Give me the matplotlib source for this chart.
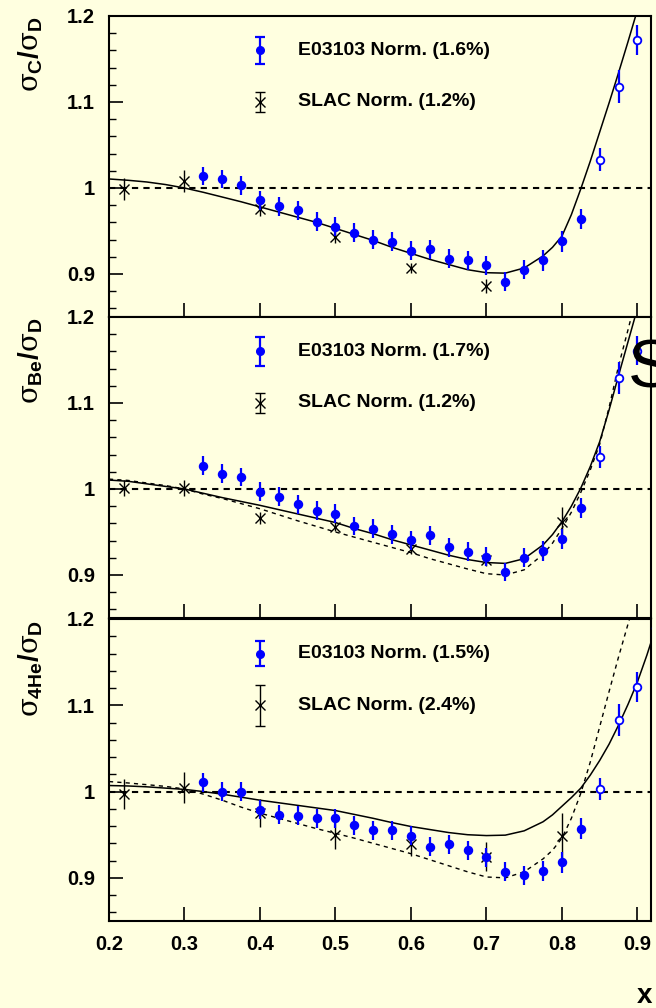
import numpy as np
import matplotlib
matplotlib.use('Agg')
import matplotlib.pyplot as plt

plt.rcParams['font.family'] = ['Liberation Sans', 'DejaVu Sans']
plt.rcParams['mathtext.fontset'] = 'custom'
plt.rcParams['mathtext.rm'] = 'Liberation Sans:bold'
plt.rcParams['mathtext.bf'] = 'Liberation Sans:bold'
plt.rcParams['mathtext.it'] = 'DejaVu Serif'

BG = '#ffffe0'

# E03103 points (x = 0.325 ... 0.9, open circles for x >= 0.85)
e_x = [0.325, 0.35, 0.375, 0.4, 0.425, 0.45, 0.475, 0.5, 0.525, 0.55, 0.575, 0.6,
       0.625, 0.65, 0.675, 0.7, 0.725, 0.75, 0.775, 0.8, 0.825, 0.85, 0.875, 0.9]
e_err = [0.011, 0.011, 0.011, 0.011, 0.011, 0.011, 0.011, 0.011, 0.011, 0.011, 0.011, 0.011,
         0.011, 0.011, 0.011, 0.011, 0.011, 0.011, 0.012, 0.012, 0.012, 0.013, 0.019, 0.017]
e_c = [1.014, 1.0105, 1.003, 0.986, 0.979, 0.974, 0.961, 0.955, 0.948, 0.940, 0.9376, 0.927,
       0.9287, 0.918, 0.916, 0.910, 0.891, 0.905, 0.916, 0.938, 0.964, 1.033, 1.118, 1.172]
e_be = [1.027, 1.018, 1.014, 0.997, 0.991, 0.982, 0.9745, 0.971, 0.957, 0.954, 0.9475, 0.9405,
        0.946, 0.932, 0.927, 0.921, 0.9035, 0.920, 0.928, 0.942, 0.978, 1.037, 1.129, 1.161]
e_he = [1.011, 1.0, 1.0, 0.979, 0.973, 0.972, 0.969, 0.969, 0.961, 0.955, 0.955, 0.949,
        0.936, 0.939, 0.932, 0.924, 0.907, 0.903, 0.908, 0.918, 0.957, 1.003, 1.083, 1.121]
e_he_x_extra = [0.925]
e_he_extra = [1.19]
e_he_err_extra = [0.017]

# SLAC points
s_x = [0.22, 0.3, 0.4, 0.5, 0.6, 0.7, 0.8]
s_c = [0.9985, 1.0085, 0.976, 0.943, 0.907, 0.886]
s_c_err = [0.013, 0.013, 0.009, 0.007, 0.006, 0.008]
s_be = [1.0008, 1.001, 0.9667, 0.9563, 0.9297, 0.917, 0.962]
s_be_err = [0.0095, 0.009, 0.007, 0.005, 0.005, 0.006, 0.017]
s_he = [0.997, 1.0047, 0.975, 0.9496, 0.9389, 0.9244, 0.9489]
s_he_err = [0.0175, 0.0175, 0.016, 0.016, 0.014, 0.017, 0.026]

# fit curves
cx = [0.2, 0.225, 0.25, 0.275, 0.3, 0.325, 0.35, 0.375, 0.4, 0.425, 0.45, 0.475, 0.5,
      0.525, 0.55, 0.575, 0.6, 0.625, 0.65, 0.675, 0.7, 0.725, 0.75, 0.775, 0.7875, 0.8,
      0.8125, 0.825, 0.8375, 0.85, 0.8625, 0.875, 0.8875, 0.9, 0.9125, 0.925]
c_solid = [1.0105, 1.009, 1.007, 1.004, 1.000, 0.995, 0.9895, 0.984, 0.978, 0.972, 0.966, 0.960, 0.953,
           0.946, 0.939, 0.931, 0.924, 0.917, 0.911, 0.905, 0.9015, 0.901, 0.907, 0.921, 0.931, 0.944,
           0.969, 0.999, 1.031, 1.065, 1.099, 1.134, 1.170, 1.207, 1.245, 1.285]
be_solid = [1.0104, 1.009, 1.006, 1.003, 1.000, 0.995, 0.990, 0.9855, 0.981, 0.976, 0.971, 0.966, 0.961,
            0.954, 0.948, 0.941, 0.935, 0.929, 0.923, 0.918, 0.9145, 0.9135, 0.919, 0.935, 0.947, 0.962,
            0.980, 1.001, 1.026, 1.055, 1.092, 1.132, 1.171, 1.21, 1.25, 1.29]
be_dash = [1.0115, 1.010, 1.007, 1.004, 1.000, 0.994, 0.989, 0.983, 0.977, 0.970, 0.963, 0.9565, 0.950,
           0.944, 0.938, 0.932, 0.926, 0.919, 0.913, 0.907, 0.9015, 0.900, 0.906, 0.924, 0.937, 0.954,
           0.973, 0.996, 1.022, 1.052, 1.095, 1.143, 1.185, 1.228, 1.27, 1.31]
he_solid = [1.007, 1.0065, 1.0055, 1.004, 1.0025, 1.000, 0.997, 0.9935, 0.990, 0.987, 0.984, 0.981, 0.978,
            0.9735, 0.969, 0.964, 0.9595, 0.956, 0.9525, 0.950, 0.949, 0.9495, 0.9545, 0.965, 0.973, 0.983,
            0.993, 1.004, 1.019, 1.036, 1.055, 1.077, 1.101, 1.127, 1.158, 1.192]
he_dash = [1.0116, 1.010, 1.008, 1.006, 1.003, 0.997, 0.990, 0.982, 0.975, 0.969, 0.963, 0.957, 0.9516,
           0.946, 0.940, 0.934, 0.928, 0.921, 0.914, 0.907, 0.901, 0.900, 0.907, 0.922, 0.932, 0.946,
           0.969, 0.998, 1.034, 1.075, 1.116, 1.156, 1.194, 1.232, 1.27, 1.31]

labels = [r'$\sigma_{\mathrm{C}}/\sigma_{\mathrm{D}}$',
          r'$\sigma_{\mathrm{Be}}/\sigma_{\mathrm{D}}$',
          r'$\sigma_{\mathrm{4He}}/\sigma_{\mathrm{D}}$']
e_norm = [0.016, 0.017, 0.015]
s_norm = [0.012, 0.012, 0.024]
xticks = [0.2, 0.3, 0.4, 0.5, 0.6, 0.7, 0.8, 0.9]

W, H = 656, 1008
fig = plt.figure(figsize=(W / 100, H / 100), dpi=100, facecolor=BG)

# panel pixel boxes (top, bottom)
boxes = [(16, 317), (317, 618), (619, 921)]
left_px, right_px = 109, 651

panels = [
    (e_c, s_x[:6], s_c, s_c_err, c_solid, None),
    (e_be, s_x, s_be, s_be_err, be_solid, be_dash),
    (e_he, s_x, s_he, s_he_err, he_solid, he_dash),
]

for i, (ey, sx, sy, serr, solid, dash) in enumerate(panels):
    top, bot = boxes[i]
    ax = fig.add_axes([left_px / W, 1 - bot / H, (right_px - left_px) / W, (bot - top) / H])
    ax.set_facecolor(BG)
    ax.set_xlim(0.2, 0.918)
    ax.set_ylim(0.85, 1.2)

    ax.axhline(1.0, color='black', lw=1.5, ls=(0, (3, 2.5)), zorder=2)
    ax.plot(cx, solid, color='black', lw=1.1, zorder=3)
    if dash is not None:
        ax.plot(cx, dash, color='black', lw=1.0, ls=(0, (3, 3)), zorder=3)

    # SLAC crosses
    ax.errorbar(sx, sy, yerr=serr, fmt='x', color='black', ms=7.5, mew=1.0,
                elinewidth=1.0, capsize=0, zorder=4)

    # E03103 points, filled below 0.85, open above
    xs = list(e_x)
    ys = list(ey)
    errs = list(e_err)
    if i == 2:
        xs += e_he_x_extra
        ys += e_he_extra
        errs += e_he_err_extra
    for x, y, er in zip(xs, ys, errs):
        face = 'blue' if x < 0.84 else 'white'
        ax.errorbar([x], [y], yerr=[er], fmt='o', color='blue', mfc=face, mec='blue',
                    ms=5.5, mew=1.3, elinewidth=1.6, capsize=0, zorder=5)

    # legend entries drawn in data coordinates
    ax.errorbar([0.4], [1.16], yerr=[e_norm[i]], fmt='o', color='blue', ms=5.5,
                elinewidth=1.6, capsize=3.5, capthick=1.6, zorder=5)
    ax.errorbar([0.4], [1.1], yerr=[s_norm[i]], fmt='x', color='black', ms=7.5, mew=1.0,
                elinewidth=1.0, capsize=3.5, capthick=1.0, zorder=5)
    ax.text(0.45, 1.16, 'E03103 Norm. (%.1f%%)' % (e_norm[i] * 100), fontsize=14,
            fontweight='bold', va='center', ha='left')
    ax.text(0.45, 1.1, 'SLAC Norm. (%.1f%%)' % (s_norm[i] * 100), fontsize=14,
            fontweight='bold', va='center', ha='left')

    ax.set_yticks([0.9, 1.0, 1.1, 1.2])
    ax.set_yticklabels(['0.9', '1', '1.1', '1.2'])
    ax.set_yticks(np.arange(0.86, 1.2, 0.02), minor=True)
    ax.set_xticks(xticks)
    ax.tick_params(axis='y', which='major', direction='in', length=10, width=1.2,
                   labelsize=14.5, pad=10, right=False)
    ax.tick_params(axis='y', which='minor', direction='in', length=5, width=1.0, right=False)
    ax.tick_params(axis='x', which='major', direction='in', length=10, width=1.2,
                   labelsize=14.5, pad=10, top=False)
    for lab in ax.get_yticklabels() + ax.get_xticklabels():
        lab.set_fontweight('bold')
    if i < 2:
        ax.set_xticklabels([])
    for sp in ax.spines.values():
        sp.set_linewidth(1.5)

    ax.text(-0.118, 0.997, labels[i], transform=ax.transAxes, rotation=90,
            ha='right', va='top', fontsize=20)

fig.text(652 / W, 1 - 1003 / H, 'x', ha='right', va='baseline', fontsize=20,
         fontweight='bold')
# large glyph at the right edge of the middle panel, cut by the border as in the source
fig.text(628 / W, 1 - 388 / H, 'S', ha='left', va='baseline', fontsize=50,
         color='black')

fig.savefig('out.png', dpi=100, facecolor=BG)
